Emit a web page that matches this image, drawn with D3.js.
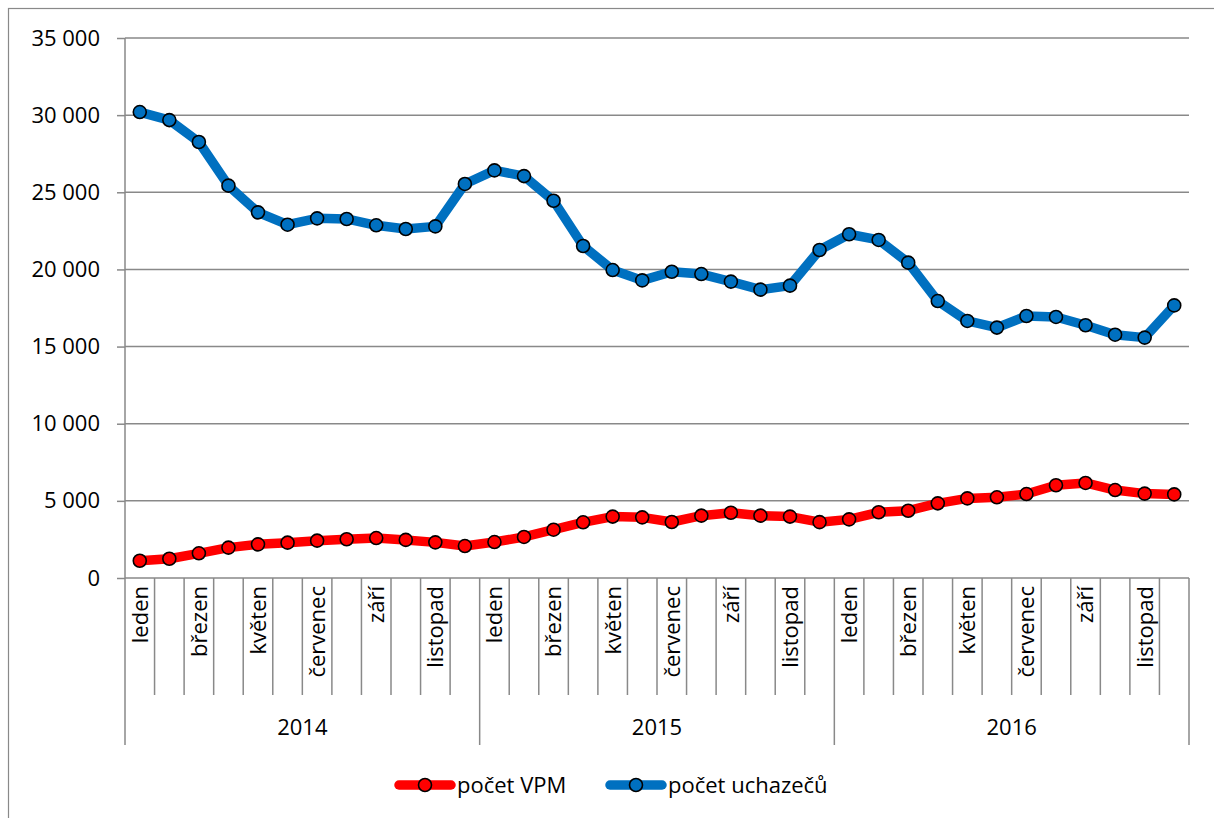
<!DOCTYPE html>
<html>
<head>
<meta charset="utf-8">
<script src="https://cdn.jsdelivr.net/npm/d3@7"></script>
<style>
  body { margin: 0; background: #fff; }
  svg text { font-family: "Open Sans", "Noto Sans", sans-serif; fill: #000; }
</style>
</head>
<body>
<svg id="chart" width="1214" height="818"></svg>
<script>
// Data
const years = ["2014", "2015", "2016"];
const months = ["leden", "únor", "březen", "duben", "květen", "červen",
                "červenec", "srpen", "září", "říjen", "listopad", "prosinec"];
const yTicks = [0, 5000, 10000, 15000, 20000, 25000, 30000, 35000];

const vpm = [1120, 1250, 1600, 1970, 2180, 2290, 2420, 2510, 2590, 2470, 2310, 2070,
             2330, 2660, 3130, 3610, 3980, 3930, 3630, 4040, 4230, 4040, 3980, 3620,
             3800, 4260, 4360, 4840, 5160, 5230, 5440, 6010, 6160, 5700, 5470, 5420];
const uchazeci = [30200, 29680, 28260, 25430, 23700, 22900, 23310, 23270, 22860, 22620, 22790, 25540,
                  26420, 26050, 24450, 21520, 19960, 19290, 19850, 19700, 19210, 18690, 18950, 21260,
                  22280, 21910, 20440, 17950, 16660, 16230, 16980, 16920, 16380, 15770, 15580, 17670];

const categories = [];
years.forEach(y => months.forEach(m => categories.push(y + "-" + m)));

const svg = d3.select("#chart");
const margin = {top: 38, left: 125, right: 25, bottom: 240};
const width = 1214 - margin.left - margin.right;   // 1064
const height = 818 - margin.top - margin.bottom;   // 540
const grey = "#898989";

// rámeček grafu
svg.append("rect")
    .attr("x", 8.5).attr("y", 8.5)
    .attr("width", 1220).attr("height", 830)
    .attr("fill", "none").attr("stroke", grey).attr("stroke-width", 1.2);

const g = svg.append("g").attr("transform", `translate(${margin.left},${margin.top})`);

// Škály
const x = d3.scaleBand().domain(categories).range([0, width]);
const y = d3.scaleLinear().domain([0, 35000]).range([height, 0]);
const cx = i => x(categories[i]) + x.bandwidth() / 2;

// Mřížka a osa Y
const yAxis = g.append("g")
    .call(d3.axisLeft(y).tickValues(yTicks).tickSize(8).tickPadding(17)
        .tickFormat(d => d3.format(",")(d).replace(/,/g, " ")));
yAxis.select(".domain").remove();
yAxis.selectAll(".tick line").attr("stroke", grey).attr("stroke-width", 1.5);
yAxis.selectAll(".tick text").style("font-size", "22px");

g.append("g").selectAll("line")
    .data(yTicks)
    .join("line")
    .attr("x1", 0).attr("x2", width)
    .attr("y1", d => y(d)).attr("y2", d => y(d))
    .attr("stroke", grey).attr("stroke-width", 1.5);

g.append("line")
    .attr("x1", 0).attr("x2", 0).attr("y1", 0).attr("y2", height)
    .attr("stroke", grey).attr("stroke-width", 1.5);

// Osa X - měsíce
const monthTickLen = 117;
const yearTickLen = 167;
g.append("g").selectAll("line")
    .data(d3.range(1, categories.length).filter(i => i % 12 !== 0))
    .join("line")
    .attr("x1", i => x(categories[i])).attr("x2", i => x(categories[i]))
    .attr("y1", height).attr("y2", height + monthTickLen)
    .attr("stroke", grey).attr("stroke-width", 1.5);

g.append("g").selectAll("line")
    .data(d3.range(0, categories.length + 1, 12))
    .join("line")
    .attr("x1", i => i < categories.length ? x(categories[i]) : width)
    .attr("x2", i => i < categories.length ? x(categories[i]) : width)
    .attr("y1", height).attr("y2", height + yearTickLen)
    .attr("stroke", grey).attr("stroke-width", 1.5);

g.append("g").selectAll("text")
    .data(d3.range(0, categories.length).filter(i => i % 2 === 0))
    .join("text")
    .attr("transform", i => `translate(${cx(i)},${height + 8}) rotate(-90)`)
    .attr("text-anchor", "end")
    .attr("dy", "0.36em")
    .style("font-size", "22px")
    .text(i => months[i % 12]);

g.append("g").selectAll("text")
    .data(years)
    .join("text")
    .attr("x", (d, i) => (x(categories[i * 12]) + (i < 2 ? x(categories[i * 12 + 12]) : width)) / 2)
    .attr("y", height + 149)
    .attr("dy", "0.36em")
    .attr("text-anchor", "middle")
    .style("font-size", "22px")
    .text(d => d);

// Řady
const series = [
    {name: "počet VPM", values: vpm, color: "#ff0000"},
    {name: "počet uchazečů", values: uchazeci, color: "#0070c0"}
];

const line = d3.line()
    .x((d, i) => cx(i))
    .y(d => y(d));

series.forEach(s => {
    g.append("path")
        .datum(s.values)
        .attr("d", line)
        .attr("fill", "none")
        .attr("stroke", s.color)
        .attr("stroke-width", 9.5)
        .attr("stroke-linejoin", "round")
        .attr("stroke-linecap", "round");
    g.append("g").selectAll("circle")
        .data(s.values)
        .join("circle")
        .attr("cx", (d, i) => cx(i))
        .attr("cy", d => y(d))
        .attr("r", 6.5)
        .attr("fill", s.color)
        .attr("stroke", "#000")
        .attr("stroke-width", 1.6);
});

// Legenda
const legend = svg.append("g").attr("transform", "translate(0,785)");
const legendX = [395, 606];
series.forEach((s, i) => {
    const lg = legend.append("g").attr("transform", `translate(${legendX[i]},0)`);
    lg.append("line")
        .attr("x1", 4).attr("x2", 56)
        .attr("stroke", s.color).attr("stroke-width", 9.5).attr("stroke-linecap", "round");
    lg.append("circle")
        .attr("cx", 30).attr("r", 6.5)
        .attr("fill", s.color).attr("stroke", "#000").attr("stroke-width", 1.6);
    lg.append("text")
        .attr("x", 62).attr("dy", "0.36em")
        .style("font-size", "22px")
        .text(s.name);
});
</script>
</body>
</html>
